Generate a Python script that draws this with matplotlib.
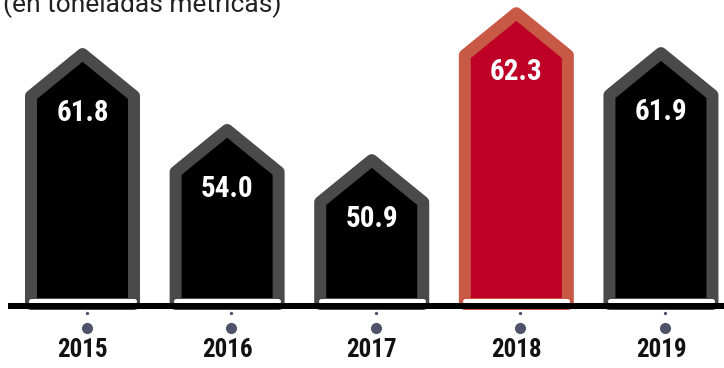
"""
Annual tonnage pictogram -- house-shaped bars, highlighted year in red
"""

import matplotlib
matplotlib.use("Agg")
import matplotlib.pyplot as plt
from matplotlib.patches import Polygon

# ── Data ──────────────────────────────────────────────────────────────────────
years = ["2015", "2016", "2017", "2018", "2019"]
tonnes = [61.8, 54.0, 50.9, 62.3, 61.9]
highlight = "2018"

# ── Palette ───────────────────────────────────────────────────────────────────
C_FILL = "#000000"
C_EDGE = "#4a4a4a"
C_HI_FILL = "#be0027"
C_HI_EDGE = "#c85a45"
C_DOT = "#4f536a"
C_TEXT = "#111111"

COND = ["Roboto Condensed", "DejaVu Sans"]

# ── Canvas ────────────────────────────────────────────────────────────────────
fig = plt.figure(figsize=(7.24, 3.68), dpi=100, facecolor="white")
ax = fig.add_axes([0, 0, 1, 1])
ax.set_xlim(-0.5705, 4.436)
ax.set_ylim(28.92, 66.74)
ax.axis("off")

PX_X = 1 / 144.6          # data units per pixel, x
PX_Y = 1 / 9.73           # data units per pixel, y
BASE = 35.6               # value sitting on the ground line
HIGHLIGHT_LIFT = 3.7      # extra emphasis for the highlighted year

# ── Bars ──────────────────────────────────────────────────────────────────────
for i, (yr, v) in enumerate(zip(years, tonnes)):
    hi = yr == highlight
    top = v + (HIGHLIGHT_LIFT if hi else 0.0)
    apex = top - 6 * PX_Y
    hw = 51.5 * PX_X
    shoulder = apex - 42 * PX_Y
    bottom = BASE - 1 * PX_Y
    pts = [(i - hw, bottom), (i - hw, shoulder), (i, apex),
           (i + hw, shoulder), (i + hw, bottom)]
    ax.add_patch(Polygon(pts, closed=True,
                         facecolor=C_HI_FILL if hi else C_FILL,
                         edgecolor=C_HI_EDGE if hi else C_EDGE,
                         lw=12 * 0.72, joinstyle="round", zorder=2))

    # white strip at the foot of each bar
    ax.plot([i - 51 * PX_X, i + 51 * PX_X], [BASE + 2.5 * PX_Y] * 2,
            color="white", lw=5 * 0.72, solid_capstyle="round", zorder=3)

    # value inside the roof
    ax.annotate(f"{v:.1f}", xy=(i, top), xytext=(0, -65 * 0.72),
                textcoords="offset points", ha="center", va="center",
                fontsize=21, fontweight="bold", color="white",
                family=COND, zorder=4)

    # tick dots + year
    ax.plot(i + 4 * PX_X, BASE - 10 * PX_Y, "o", ms=2.4, color=C_DOT,
            mec="none", zorder=3)
    ax.plot(i + 4 * PX_X, BASE - 25 * PX_Y, "o", ms=8, color=C_DOT,
            mec="none", zorder=3)
    ax.text(i, BASE - 47 * PX_Y, yr, ha="center", va="center",
            fontsize=18, fontweight="bold", color=C_TEXT, family=COND)

# ground line
ax.plot([-0.5705 + 8 * PX_X, 4.436], [BASE - 3 * PX_Y] * 2,
        color="black", lw=6 * 0.72, solid_capstyle="butt", zorder=5)

# ── Subtitle (runs off the top edge) ─────────────────────────────────────────
fig.text(3 / 724, 1 - 12 / 368, "(en toneladas métricas)", ha="left",
         va="baseline", fontsize=19, color="#222222", family=["Roboto", "DejaVu Sans"])

fig.savefig("out.png", dpi=100, facecolor="white")
